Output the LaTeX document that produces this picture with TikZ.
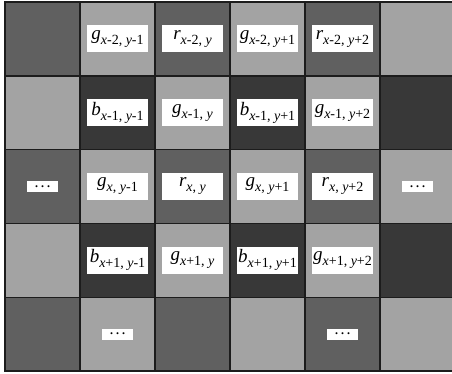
\documentclass[tikz,border=0pt]{standalone}
\usepackage{fontspec}
\setmainfont{Liberation Serif}
\usepackage{tikz}
\definecolor{cfa0}{RGB}{96,96,96}
\definecolor{cfa1}{RGB}{163,163,163}
\definecolor{cfa2}{RGB}{163,163,163}
\definecolor{cfa3}{RGB}{56,56,56}
\definecolor{cfaline}{RGB}{28,28,28}
% sample name with its (x,y) offsets as subscript
\newcommand{\smp}[3]{{\fontsize{19}{19}\selectfont\itshape #1}%
  \raisebox{-5pt}{\fontsize{14}{14}\selectfont\itshape x\upshape #2, \itshape y\upshape #3}}

\begin{document}
\begin{tikzpicture}[
    x=1pt, y=-1pt,
    cell/.style={rectangle, draw=cfaline, line width=1.4pt,
                 minimum width=75pt, minimum height=73.8pt, inner sep=0pt},
    pixlbl/.style={rectangle, fill=white, inner sep=1pt,
                 minimum width=61pt, minimum height=27pt},
    dotlbl/.style={rectangle, fill=white, inner sep=0pt,
                 minimum width=31pt, minimum height=11pt,
                 font=\fontsize{12}{12}\selectfont\bfseries},
  ]
  \useasboundingbox (0,0) rectangle (452,373);
  \clip (0,0) rectangle (452,373);

  % Mozaik
  \foreach \r in {0,...,4}
    \foreach \c in {0,...,5}{
      \pgfmathtruncatemacro{\k}{2*mod(\r,2)+mod(\c,2)}
      \node[cell, fill=cfa\k] (c\r\c) at ({42.5+75*\c},{38.9+73.8*\r}) {};
    }

  % Red x-2
  \node[pixlbl] (g01) at (c01) {\smp{g}{-2}{-1}};
  \node[pixlbl] (r02) at (c02) {\smp{r}{-2}{}};
  \node[pixlbl] (g03) at (c03) {\smp{g}{-2}{+1}};
  \node[pixlbl] (r04) at (c04) {\smp{r}{-2}{+2}};

  % Red x-1
  \node[pixlbl] (b11) at (c11) {\smp{b}{-1}{-1}};
  \node[pixlbl] (g12) at (c12) {\smp{g}{-1}{}};
  \node[pixlbl] (b13) at (c13) {\smp{b}{-1}{+1}};
  \node[pixlbl] (g14) at (c14) {\smp{g}{-1}{+2}};

  % Red x
  \node[dotlbl] (d20) at (c20) {.\hspace{3pt}.\hspace{3pt}.};
  \node[pixlbl] (g21) at (c21) {\smp{g}{}{-1}};
  \node[pixlbl] (r22) at (c22) {\smp{r}{}{}};
  \node[pixlbl] (g23) at (c23) {\smp{g}{}{+1}};
  \node[pixlbl] (r24) at (c24) {\smp{r}{}{+2}};
  \node[dotlbl] (d25) at (c25) {.\hspace{3pt}.\hspace{3pt}.};

  % Red x+1
  \node[pixlbl] (b31) at (c31) {\smp{b}{+1}{-1}};
  \node[pixlbl] (g32) at (c32) {\smp{g}{+1}{}};
  \node[pixlbl] (b33) at (c33) {\smp{b}{+1}{+1}};
  \node[pixlbl] (g34) at (c34) {\smp{g}{+1}{+2}};

  % Donji red
  \node[dotlbl] (d41) at (c41) {.\hspace{3pt}.\hspace{3pt}.};
  \node[dotlbl] (d44) at (c44) {.\hspace{3pt}.\hspace{3pt}.};
\end{tikzpicture}
\end{document}
